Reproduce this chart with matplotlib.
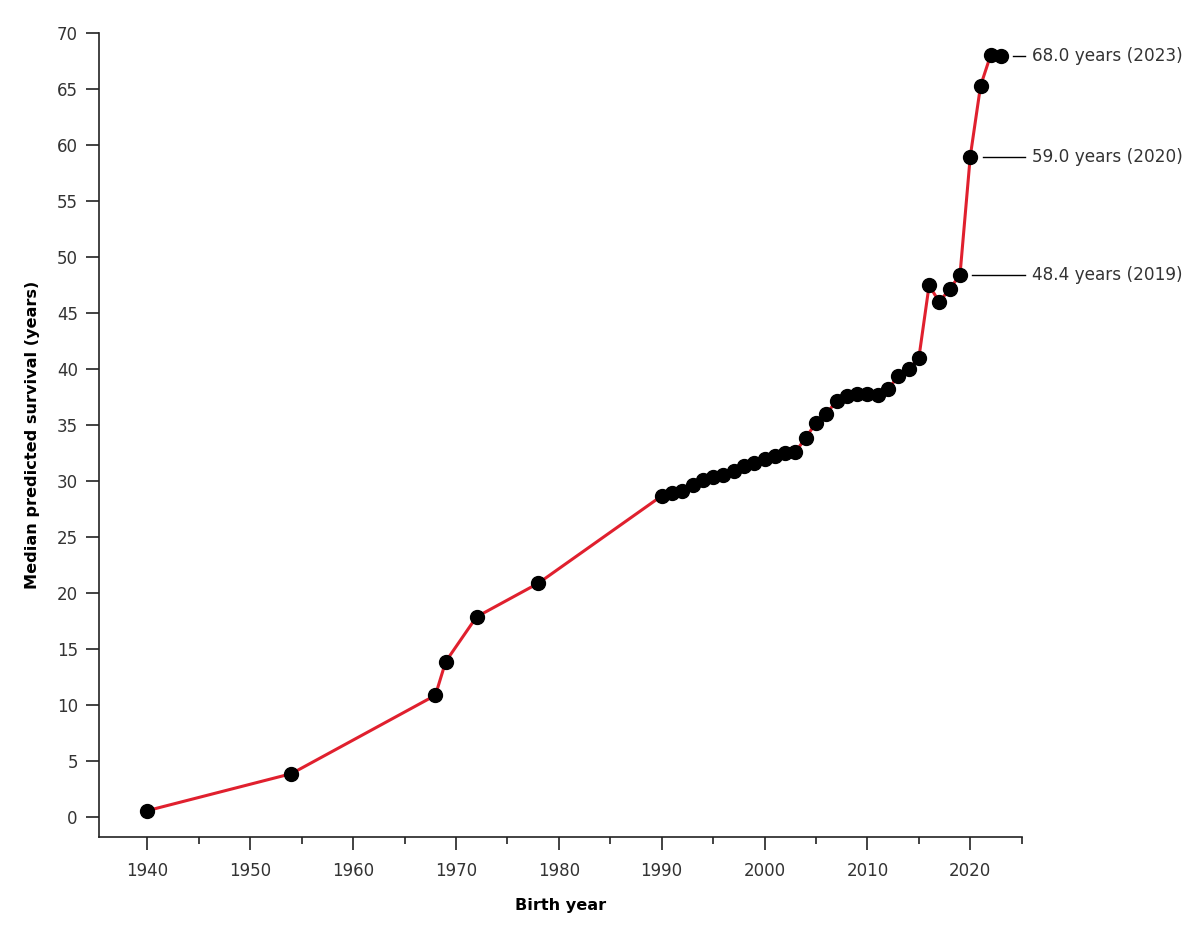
import matplotlib
matplotlib.use("Agg")
import matplotlib.pyplot as plt
from matplotlib.ticker import MultipleLocator

# Birth year vs median predicted survival (years)
birth_year = [1940, 1954, 1968, 1969, 1972, 1978,
              1990, 1991, 1992, 1993, 1994, 1995, 1996, 1997, 1998, 1999,
              2000, 2001, 2002, 2003, 2004, 2005, 2006, 2007, 2008, 2009,
              2010, 2011, 2012, 2013, 2014, 2015, 2016, 2017, 2018, 2019,
              2020, 2021, 2022, 2023]
survival = [0.6, 3.9, 10.9, 13.9, 17.9, 20.9,
            28.7, 29.0, 29.1, 29.7, 30.1, 30.4, 30.6, 30.9, 31.4, 31.6,
            32.0, 32.3, 32.5, 32.6, 33.9, 35.2, 36.0, 37.2, 37.6, 37.8,
            37.8, 37.7, 38.2, 39.4, 40.0, 41.0, 47.5, 46.0, 47.2, 48.4,
            59.0, 65.3, 68.1, 68.0]

# Labelled points
label_years = [2019, 2020, 2023]
label_values = [48.4, 59.0, 68.0]

text_col = "#333333"

fig = plt.figure(figsize=(12, 9.41), dpi=100)
ax = fig.add_axes([0.0828, 0.1108, 0.7686, 0.8538])

ax.plot(birth_year, survival, color="#e0202e", lw=2.2, zorder=2)
ax.plot(birth_year, survival, "o", color="black", ms=10, zorder=3)

for yr, val in zip(label_years, label_values):
    ax.plot([yr + 1.2, 2025.3], [val, val], color="black", lw=1.0, clip_on=False)
    ax.text(2026.0, val, f"{val:.1f} years ({yr})", fontsize=12.2, color=text_col,
            ha="left", va="center", clip_on=False)

ax.set_xlim(1935.33, 2025)
ax.set_ylim(-1.73, 70)
ax.xaxis.set_major_locator(MultipleLocator(10))
ax.xaxis.set_minor_locator(MultipleLocator(5))
ax.yaxis.set_major_locator(MultipleLocator(5))
ax.set_xticks([1940, 1950, 1960, 1970, 1980, 1990, 2000, 2010, 2020])

for side in ["top", "right"]:
    ax.spines[side].set_visible(False)
for side in ["left", "bottom"]:
    ax.spines[side].set_linewidth(1.2)
    ax.spines[side].set_color("#222222")

ax.tick_params(axis="both", which="major", length=9.5, width=1.2, color="#222222",
               labelsize=12, labelcolor=text_col)
ax.tick_params(axis="x", which="major", pad=9)
ax.tick_params(axis="y", which="major", pad=6)
ax.tick_params(axis="x", which="minor", length=5, width=1.2, color="#222222")

ax.set_xlabel("Birth year", fontsize=11.6, fontweight="bold", labelpad=13)
ax.set_ylabel("Median predicted survival (years)", fontsize=11.6, fontweight="bold",
              labelpad=12)

fig.savefig("out.png", dpi=100)
